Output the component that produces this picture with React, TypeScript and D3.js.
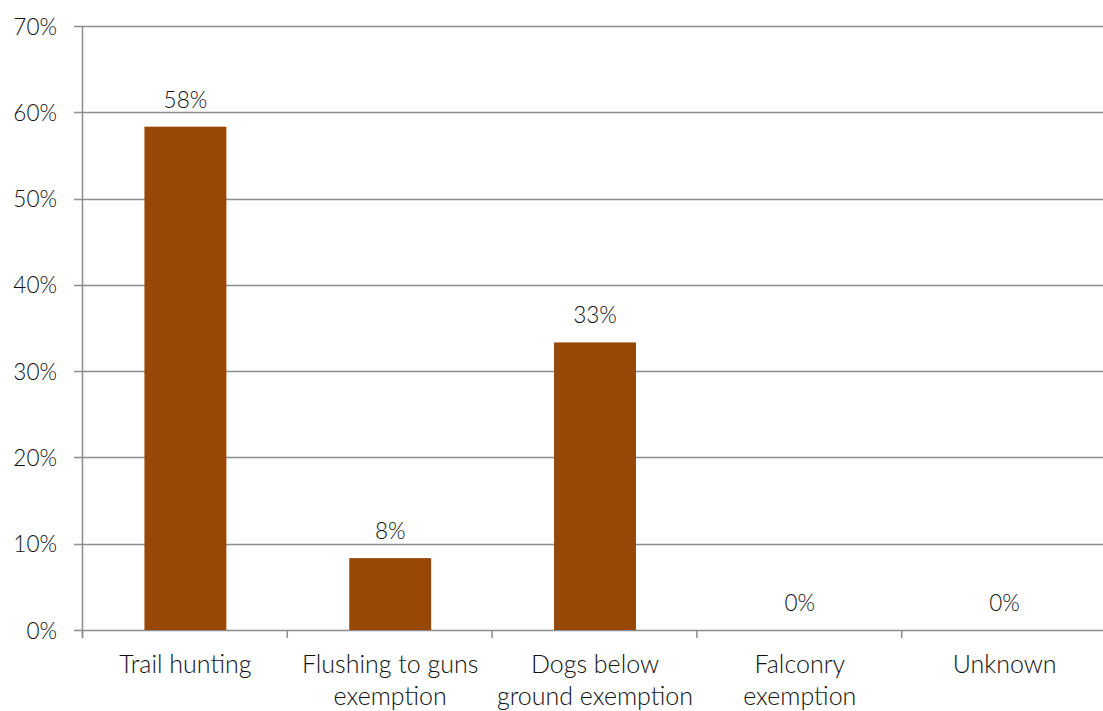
import React from "react";
import * as d3 from "d3";

const categories: string[][] = [
  ["Trail hunting"],
  ["Flushing to guns", "exemption"],
  ["Dogs below", "ground exemption"],
  ["Falconry", "exemption"],
  ["Unknown"],
];
const values: number[] = [0.5833, 0.0833, 0.3333, 0, 0];
const valueLabels: string[] = ["58%", "8%", "33%", "0%", "0%"];
const yTicks: number[] = [0, 0.1, 0.2, 0.3, 0.4, 0.5, 0.6, 0.7];

const W = 1103;
const H = 711;
const margin = { left: 83, right: -4, top: 26, bottom: 81 };
const FONT = "Lato, 'Open Sans', sans-serif";
const BAR = "#974706";
const GRID = "#8c8c8c";
const TEXT = "#111111";

export default function App() {
  const x = d3
    .scaleBand<number>()
    .domain(d3.range(categories.length))
    .range([margin.left, W - margin.right])
    .paddingInner(0)
    .paddingOuter(0);
  const y = d3
    .scaleLinear()
    .domain([0, 0.7])
    .range([H - margin.bottom, margin.top]);
  const fmt = d3.format(".0%");
  const bw = x.bandwidth();
  const barW = bw * 0.4;

  return (
    <svg
      width={W}
      height={H}
      style={{ position: "absolute", left: 0, top: 0, background: "#fff" }}
      fontFamily={FONT}
      fontWeight={300}
    >
      {/* horizontal gridlines */}
      {yTicks.map((t) => (
        <line
          key={"g" + t}
          x1={margin.left - 9}
          x2={W}
          y1={Math.round(y(t)) + 0.5}
          y2={Math.round(y(t)) + 0.5}
          stroke={GRID}
          strokeWidth={1.5}
        />
      ))}
      {/* y axis line */}
      <line
        x1={margin.left - 0.5}
        x2={margin.left - 0.5}
        y1={y(0.7)}
        y2={y(0) + 8}
        stroke={GRID}
        strokeWidth={1.5}
      />
      {/* category ticks */}
      {d3.range(categories.length).map((i) => (
        <line
          key={"t" + i}
          x1={(x(i) as number) - 0.5}
          x2={(x(i) as number) - 0.5}
          y1={y(0)}
          y2={y(0) + 8}
          stroke={GRID}
          strokeWidth={1.5}
        />
      ))}
      {/* y tick labels */}
      {yTicks.map((t) => (
        <text
          key={"yl" + t}
          x={57}
          y={y(t)}
          textAnchor="end"
          dominantBaseline="central"
          fontSize={22.5}
          fill={TEXT}
        >
          {fmt(t)}
        </text>
      ))}
      {/* bars */}
      {values.map((v, i) => (
        <rect
          key={"b" + i}
          x={(x(i) as number) + (bw - barW) / 2}
          y={y(v)}
          width={barW}
          height={y(0) - y(v)}
          fill={BAR}
        />
      ))}
      {/* value labels */}
      {values.map((v, i) => (
        <text
          key={"v" + i}
          x={(x(i) as number) + bw / 2}
          y={y(v) - 19}
          textAnchor="middle"
          fontSize={22.5}
          fill={TEXT}
        >
          {valueLabels[i]}
        </text>
      ))}
      {/* category labels */}
      {categories.map((lines, i) => (
        <text
          key={"c" + i}
          x={(x(i) as number) + bw / 2}
          y={673}
          textAnchor="middle"
          fontSize={25}
          fill={TEXT}
        >
          {lines.map((ln, j) => (
            <tspan key={j} x={(x(i) as number) + bw / 2} dy={j === 0 ? 0 : 32}>
              {ln}
            </tspan>
          ))}
        </text>
      ))}
    </svg>
  );
}
